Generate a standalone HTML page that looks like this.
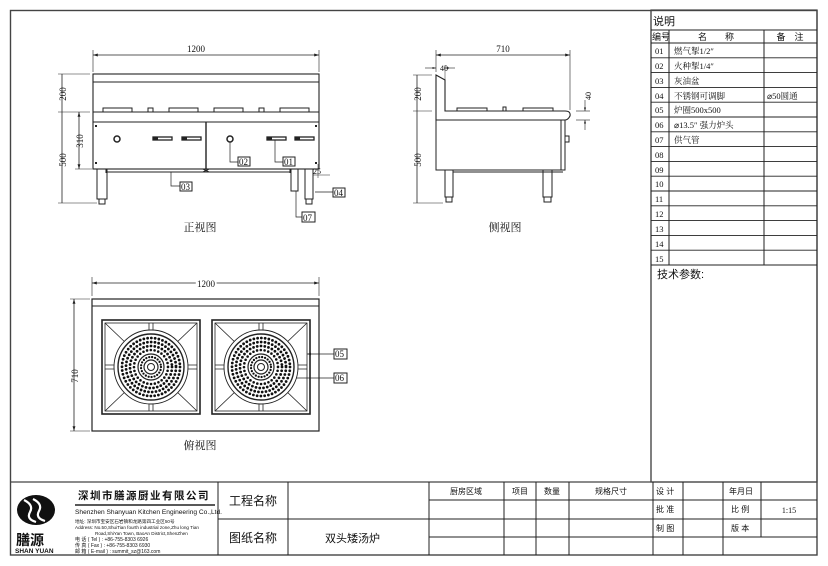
<!DOCTYPE html>
<html><head><meta charset="utf-8"><style>
html,body{margin:0;padding:0;background:#fff;width:828px;height:566px;overflow:hidden}
svg{display:block}
text{font-family:"Liberation Serif","Noto Serif CJK SC","Noto Sans CJK SC",serif;fill:#111}
.s{font-family:"Liberation Sans","Noto Sans CJK SC",sans-serif}
</style></head><body>
<svg width="828" height="566" viewBox="0 0 828 566" xmlns="http://www.w3.org/2000/svg">
<defs>
<marker id="a" viewBox="0 0 10 10" refX="10" refY="5" markerWidth="6" markerHeight="6" orient="auto-start-reverse"><path d="M0,2 L10,5 L0,8z" fill="#222"/></marker>
<g id="grate">
 <rect x="0" y="0" width="98" height="94" fill="none" stroke="#222" stroke-width="1.6"/>
 <rect x="3" y="3" width="92" height="88" fill="none" stroke="#222" stroke-width="0.8"/>
 <line x1="47" y1="3" x2="47" y2="91" stroke="#222" stroke-width="0.8"/>
 <line x1="51" y1="3" x2="51" y2="91" stroke="#222" stroke-width="0.8"/>
 <line x1="3" y1="45" x2="95" y2="45" stroke="#222" stroke-width="0.8"/>
 <line x1="3" y1="49" x2="95" y2="49" stroke="#222" stroke-width="0.8"/>
 <line x1="3" y1="3" x2="95" y2="91" stroke="#222" stroke-width="0.8"/>
 <line x1="95" y1="3" x2="3" y2="91" stroke="#222" stroke-width="0.8"/>
 <circle cx="49" cy="47" r="37" fill="#fff" stroke="#222" stroke-width="0.9"/>
 <circle cx="49" cy="47" r="33" fill="#fff" stroke="#222" stroke-width="1.4"/>
 <circle cx="49" cy="47" r="29" fill="none" stroke="#111" stroke-width="2.8" stroke-dasharray="0 3.8" stroke-linecap="round"/>
 <circle cx="49" cy="47" r="25" fill="none" stroke="#111" stroke-width="2.8" stroke-dasharray="0 3.8" stroke-linecap="round"/>
 <circle cx="49" cy="47" r="21" fill="none" stroke="#111" stroke-width="2.8" stroke-dasharray="0 3.8" stroke-linecap="round"/>
 <circle cx="49" cy="47" r="17" fill="none" stroke="#111" stroke-width="2.6" stroke-dasharray="0 3.8" stroke-linecap="round"/>
 <circle cx="49" cy="47" r="13" fill="#fff" stroke="#222" stroke-width="1.2"/>
 <circle cx="49" cy="47" r="10" fill="none" stroke="#111" stroke-width="2.3" stroke-dasharray="0 3" stroke-linecap="round"/>
 <circle cx="49" cy="47" r="7" fill="#fff" stroke="#222" stroke-width="1.2"/>
 <circle cx="49" cy="47" r="3.5" fill="#fff" stroke="#222" stroke-width="1"/>
</g>
</defs>
<g fill="none" stroke="#222" stroke-width="1">
<rect x="10.5" y="10.5" width="806.5" height="544.5" stroke="#444" stroke-width="1.4"/>
<line x1="651" y1="10" x2="651" y2="482" stroke="#444" stroke-width="1.2"/>
<line x1="10" y1="482" x2="817" y2="482" stroke="#444" stroke-width="1.2"/>

<line x1="93" y1="55" x2="319" y2="55" marker-start="url(#a)" marker-end="url(#a)" stroke-width="0.8"/>
<line x1="93" y1="50" x2="93" y2="72" stroke-width="0.6"/>
<line x1="319" y1="50" x2="319" y2="72" stroke-width="0.6"/>
<rect x="93" y="74" width="226" height="95" stroke-width="1.1"/>
<line x1="93" y1="82" x2="319" y2="82"/>
<line x1="93" y1="112" x2="319" y2="112"/>
<line x1="93" y1="122" x2="319" y2="122"/>
<path d="M103,112 V108 H132 V112 M148,112 V108 H153 V112 M169,112 V108 H198 V112 M214,112 V108 H243 V112 M259,112 V108 H264 V112 M280,112 V108 H309 V112"/>
<line x1="206" y1="122" x2="206" y2="169" stroke-width="1.4"/>
<line x1="203" y1="169" x2="209" y2="172" /><line x1="209" y1="169" x2="203" y2="172"/>
<line x1="106" y1="172" x2="290" y2="172"/>
<line x1="106" y1="169" x2="106" y2="173"/><line x1="290" y1="169" x2="290" y2="173"/>
<circle cx="117" cy="139" r="3" stroke-width="1.5"/><circle cx="230" cy="139" r="3" stroke-width="1.5"/>
<g stroke-width="1.3">
<rect x="153" y="137" width="19" height="3"/><rect x="182" y="137" width="19" height="3"/>
<rect x="267" y="137" width="19" height="3"/><rect x="295" y="137" width="19" height="3"/>
</g>
<g fill="#222" stroke="none"><rect x="153" y="137" width="5" height="3"/><rect x="182" y="137" width="5" height="3"/><rect x="267" y="137" width="5" height="3"/><rect x="295" y="137" width="5" height="3"/>
<rect x="95" y="125" width="2" height="2"/><rect x="95" y="162" width="2" height="2"/><rect x="315" y="125" width="2" height="2"/><rect x="315" y="162" width="2" height="2"/></g>
<rect x="97" y="169" width="10" height="30"/><rect x="99" y="199" width="6" height="5"/>
<rect x="305" y="169" width="8" height="30"/><rect x="306" y="199" width="6" height="5"/>
<rect x="291" y="169" width="7" height="22"/>
<line x1="62" y1="74" x2="62" y2="203" stroke-width="0.8"/>
<line x1="58" y1="74" x2="90" y2="74" stroke-width="0.6"/><line x1="58" y1="112" x2="90" y2="112" stroke-width="0.6"/><line x1="58" y1="203" x2="97" y2="203" stroke-width="0.6"/>
<line x1="79" y1="112" x2="79" y2="169" stroke-width="0.8" marker-start="url(#a)" marker-end="url(#a)"/>
<line x1="75" y1="169" x2="92" y2="169" stroke-width="0.6"/>
<path d="M230,142 V162 H238" stroke-width="0.7"/><rect x="238" y="157" width="12" height="9"/>
<path d="M275,140 V162 H283" stroke-width="0.7"/><rect x="283" y="157" width="12" height="9"/>
<path d="M171,172 V186 H180" stroke-width="0.7"/><rect x="180" y="182" width="12" height="9"/>
<path d="M315,192 H333" stroke-width="0.7"/><rect x="333" y="188" width="12" height="9"/>
<path d="M296,191 V217 H302" stroke-width="0.7"/><rect x="302" y="212" width="13" height="10"/>
<line x1="313" y1="175" x2="330" y2="175" stroke-width="0.5"/>
<line x1="318" y1="164" x2="318" y2="178" stroke-width="0.5"/>

<line x1="436" y1="55" x2="570" y2="55" marker-start="url(#a)" marker-end="url(#a)" stroke-width="0.8"/>
<line x1="436" y1="50" x2="436" y2="72" stroke-width="0.6"/><line x1="570" y1="50" x2="570" y2="110" stroke-width="0.6"/>
<path d="M436,75 L445,80 V111 H565 Q571,111 570,116 Q568,120 565,120 H436 Z" stroke-width="1.1"/>
<line x1="436" y1="75" x2="436" y2="120"/>
<path d="M457,111 V108 H487 V111 M503,111 V107 H506 V111 M523,111 V108 H553 V111"/>
<rect x="436" y="120" width="129" height="50"/>
<line x1="561" y1="120" x2="561" y2="170"/>
<rect x="565" y="136" width="4" height="6"/>
<line x1="453" y1="172" x2="563" y2="172"/>
<rect x="445" y="170" width="8" height="27"/><rect x="446" y="197" width="6" height="5"/>
<rect x="543" y="170" width="9" height="27"/><rect x="544" y="197" width="7" height="5"/>
<line x1="417" y1="75" x2="417" y2="203" stroke-width="0.8"/>
<line x1="413" y1="75" x2="432" y2="75" stroke-width="0.6"/><line x1="413" y1="111" x2="432" y2="111" stroke-width="0.6"/><line x1="413" y1="203" x2="443" y2="203" stroke-width="0.6"/>
<line x1="425" y1="68" x2="436" y2="68" marker-end="url(#a)" stroke-width="0.6"/><line x1="455" y1="68" x2="445" y2="68" marker-end="url(#a)" stroke-width="0.6"/>
<line x1="445" y1="65" x2="445" y2="80" stroke-width="0.5"/>
<line x1="576" y1="111" x2="590" y2="111" stroke-width="0.6"/><line x1="576" y1="120" x2="590" y2="120" stroke-width="0.6"/>
<line x1="585" y1="100" x2="585" y2="111" marker-end="url(#a)" stroke-width="0.6"/><line x1="585" y1="130" x2="585" y2="120" marker-end="url(#a)" stroke-width="0.6"/>

<line x1="92" y1="283" x2="319" y2="283" marker-start="url(#a)" marker-end="url(#a)" stroke-width="0.8"/>
<line x1="92" y1="277" x2="92" y2="296" stroke-width="0.6"/><line x1="319" y1="277" x2="319" y2="296" stroke-width="0.6"/>
<rect x="92" y="299" width="227" height="132" stroke-width="1.2"/>
<line x1="92" y1="306" x2="319" y2="306"/>
<line x1="74" y1="299" x2="74" y2="431" marker-start="url(#a)" marker-end="url(#a)" stroke-width="0.8"/>
<line x1="70" y1="299" x2="90" y2="299" stroke-width="0.6"/><line x1="70" y1="431" x2="90" y2="431" stroke-width="0.6"/>
<use href="#grate" x="102" y="320"/>
<use href="#grate" x="212" y="320"/>
<line x1="334" y1="354" x2="307" y2="354" marker-end="url(#a)" stroke-width="0.7"/><rect x="334" y="349" width="13" height="10"/>
<line x1="334" y1="378" x2="296" y2="378" stroke-width="0.7"/><rect x="334" y="373" width="13" height="10"/>

<rect x="651" y="10" width="166" height="472" stroke="#444" stroke-width="1.2"/>
<line x1="651" y1="30" x2="817" y2="30"/>
<line x1="651" y1="43" x2="817" y2="43"/>
<g stroke-width="0.9">
<line x1="651" y1="57.8" x2="817" y2="57.8"/><line x1="651" y1="72.6" x2="817" y2="72.6"/><line x1="651" y1="87.4" x2="817" y2="87.4"/><line x1="651" y1="102.2" x2="817" y2="102.2"/><line x1="651" y1="117" x2="817" y2="117"/><line x1="651" y1="131.8" x2="817" y2="131.8"/><line x1="651" y1="146.6" x2="817" y2="146.6"/><line x1="651" y1="161.4" x2="817" y2="161.4"/><line x1="651" y1="176.2" x2="817" y2="176.2"/><line x1="651" y1="191" x2="817" y2="191"/><line x1="651" y1="205.8" x2="817" y2="205.8"/><line x1="651" y1="220.6" x2="817" y2="220.6"/><line x1="651" y1="235.4" x2="817" y2="235.4"/><line x1="651" y1="250.2" x2="817" y2="250.2"/><line x1="651" y1="265" x2="817" y2="265"/>
</g>
<line x1="669" y1="30" x2="669" y2="265"/><line x1="764" y1="30" x2="764" y2="265"/>

<line x1="218" y1="482" x2="218" y2="555"/>
<line x1="288" y1="482" x2="288" y2="555"/>
<line x1="218" y1="519" x2="429" y2="519"/>
<line x1="429" y1="482" x2="429" y2="555"/>
<line x1="429" y1="500" x2="817" y2="500"/><line x1="429" y1="519" x2="817" y2="519"/><line x1="429" y1="537" x2="817" y2="537"/>
<line x1="504" y1="482" x2="504" y2="555"/><line x1="536" y1="482" x2="536" y2="555"/><line x1="569" y1="482" x2="569" y2="555"/>
<line x1="653" y1="482" x2="653" y2="555"/><line x1="683" y1="482" x2="683" y2="555"/><line x1="723" y1="482" x2="723" y2="555"/><line x1="761" y1="482" x2="761" y2="537"/>
<line x1="75" y1="505" x2="215" y2="505" stroke-width="1.5"/>
</g>

<ellipse cx="36" cy="510" rx="19" ry="15" fill="#111"/>
<path d="M24,500 Q34,505 30,512 Q26,519 36,522 M33,499 Q43,504 39,511 Q35,518 45,521" stroke="#fff" stroke-width="2.2" fill="none"/>

<g font-size="10">
<text x="196" y="52" text-anchor="middle" font-size="9">1200</text>
<text transform="translate(66,94) rotate(-90)" text-anchor="middle" font-size="9">200</text>
<text transform="translate(66,160) rotate(-90)" text-anchor="middle" font-size="9">500</text>
<text transform="translate(83,141) rotate(-90)" text-anchor="middle" font-size="9">310</text>
<text x="239" y="165" font-size="9">02</text><text x="284" y="165" font-size="9">01</text>
<text x="181" y="190" font-size="9">03</text><text x="334" y="196" font-size="9">04</text>
<text x="303" y="221" font-size="9">07</text>
<text x="313" y="174" font-size="8">25</text>
<text x="200" y="231" text-anchor="middle" font-size="11">正视图</text>

<text x="503" y="52" text-anchor="middle" font-size="9">710</text>
<text x="440" y="71" font-size="8">40</text>
<text transform="translate(421,94) rotate(-90)" text-anchor="middle" font-size="9">200</text>
<text transform="translate(421,160) rotate(-90)" text-anchor="middle" font-size="9">500</text>
<text transform="translate(591,96) rotate(-90)" text-anchor="middle" font-size="8">40</text>
<text x="505" y="231" text-anchor="middle" font-size="11">侧视图</text>

<text x="206" y="287" text-anchor="middle" font-size="9" style="paint-order:stroke" stroke="#fff" stroke-width="4">1200</text>
<text transform="translate(78,376) rotate(-90)" text-anchor="middle" font-size="9">710</text>
<text x="335" y="357" font-size="9">05</text><text x="335" y="381" font-size="9">06</text>
<text x="200" y="449" text-anchor="middle" font-size="11">俯视图</text>

<text x="653" y="25" font-size="11" class="s">说明</text>
<text x="652" y="40" font-size="9" class="s">编号</text>
<text x="716" y="40" text-anchor="middle" font-size="9" class="s">名　　称</text>
<text x="790" y="40" text-anchor="middle" font-size="9" class="s">备　注</text>
<g font-size="8.5">
<text x="655" y="54">01</text><text x="655" y="69">02</text><text x="655" y="84">03</text><text x="655" y="99">04</text><text x="655" y="113">05</text><text x="655" y="128">06</text><text x="655" y="143">07</text><text x="655" y="158">08</text><text x="655" y="173">09</text><text x="655" y="187">10</text><text x="655" y="202">11</text><text x="655" y="217">12</text><text x="655" y="232">13</text><text x="655" y="247">14</text><text x="655" y="262">15</text>
<text x="674" y="54">燃气掣1/2″</text><text x="674" y="69">火种掣1/4″</text><text x="674" y="84">灰油盆</text><text x="674" y="99">不锈钢可调脚</text><text x="674" y="113">炉圈500x500</text><text x="674" y="128">⌀13.5″ 强力炉头</text><text x="674" y="143">供气管</text>
<text x="767" y="99">⌀50圆通</text>
</g>
<text x="657" y="278" font-size="11" class="s">技术参数:</text>

<text x="78" y="499" font-size="10.5" class="s" font-weight="bold" letter-spacing="1.5">深圳市膳源厨业有限公司</text>
<text x="75" y="514" font-size="6.6" class="s">Shenzhen Shanyuan Kitchen Engineering Co.,Ltd.</text>
<text x="75" y="523" font-size="4.6" class="s">地址: 深圳市宝安区石岩镇和龙路第四工业区50号</text>
<text x="75" y="529" font-size="4.6" class="s">Address: No.50,ShuiTian fourth industrial zone,Zhu long Tian</text>
<text x="95" y="535" font-size="4.6" class="s">Road,ShiYan Town, BaoAn District,ShenZhen</text>
<text x="75" y="541" font-size="5" class="s">电 话 ( Tel ) : +86-755-8303 6926</text>
<text x="75" y="547" font-size="5" class="s">传 真 ( Fax ) : +86-755-8303 6930</text>
<text x="75" y="553" font-size="5" class="s">邮 箱 ( E-mail ) : summit_sz@163.com</text>
<text x="16" y="545" font-size="14" class="s" font-weight="bold">膳源</text>
<text x="15" y="553" font-size="6.5" class="s" font-weight="bold">SHAN YUAN</text>

<text x="229" y="505" font-size="12" class="s">工程名称</text>
<text x="229" y="542" font-size="12" class="s">图纸名称</text>
<text x="325" y="542" font-size="11" class="s">双头矮汤炉</text>
<g font-size="8" class="s">
<text x="466" y="494" text-anchor="middle" class="s">厨房区域</text>
<text x="520" y="494" text-anchor="middle" class="s">项目</text>
<text x="552" y="494" text-anchor="middle" class="s">数量</text>
<text x="611" y="494" text-anchor="middle" class="s">规格尺寸</text>
<text x="656" y="494" class="s">设 计</text><text x="656" y="512" class="s">批 准</text><text x="656" y="531" class="s">制 图</text>
<text x="729" y="494" class="s">年月日</text><text x="731" y="512" class="s">比 例</text><text x="731" y="531" class="s">版 本</text>
</g>
<text x="789" y="513" text-anchor="middle" font-size="8">1:15</text>
</g>
</svg>
</body></html>
